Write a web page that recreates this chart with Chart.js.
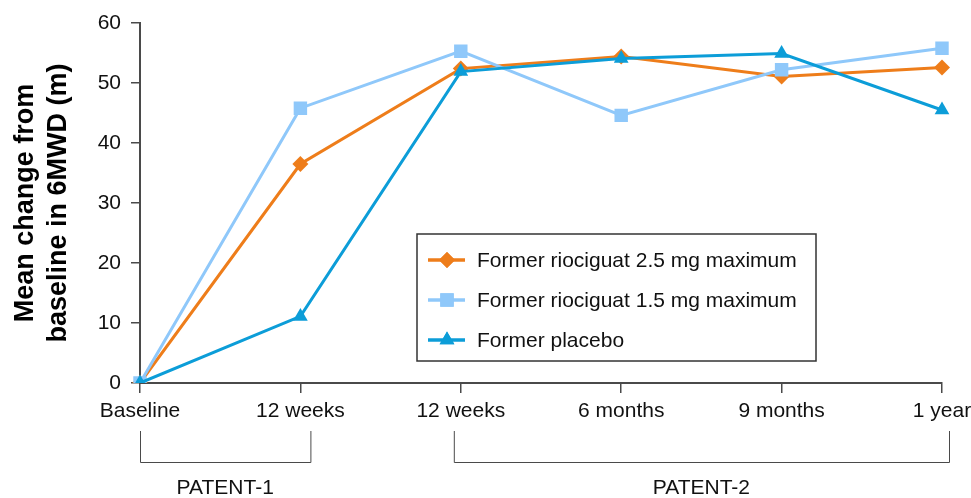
<!DOCTYPE html>
<html>
<head>
<meta charset="utf-8">
<script src="https://cdn.jsdelivr.net/npm/chart.js@4.4.1/dist/chart.umd.min.js"></script>
<style>
  html, body { margin: 0; padding: 0; background: #fff; }
  #wrap { width: 971px; height: 498px; position: relative; }
</style>
</head>
<body>
<div id="wrap"><canvas id="sixMwdChart"></canvas></div>
<script>
const timepoints = ['Baseline', '12 weeks', '12 weeks', '6 months', '9 months', '1 year'];
const riociguat25 = [0, 36.5, 52.4, 54.4, 51.1, 52.6];
const riociguat15 = [0, 45.8, 55.3, 44.6, 52.2, 55.8];
const placebo = [0, 11.1, 51.9, 54.1, 54.9, 45.5];
const yTicks = [0, 10, 20, 30, 40, 50, 60];
const studyGroups = [
  { label: 'PATENT-1', from: 0, to: 1 },
  { label: 'PATENT-2', from: 2, to: 5 }
];

const ORANGE = '#EE7D1A';
const LIGHT_BLUE = '#8FC8FA';
const BLUE = '#0C9DD8';
const AXIS = '#4a4a4a';
const FONT = 'Liberation Sans, Arial, sans-serif';

// legend box drawn inside the plot, line + marker like the original
const boxLegend = {
  id: 'boxLegend',
  afterDraw(chart) {
    const ctx = chart.ctx;
    const x0 = 417, y0 = 234, w = 399, h = 127;
    ctx.save();
    ctx.fillStyle = '#fff';
    ctx.fillRect(x0, y0, w, h);
    ctx.strokeStyle = '#333';
    ctx.lineWidth = 1.5;
    ctx.strokeRect(x0, y0, w, h);
    chart.data.datasets.forEach((ds, i) => {
      const cy = y0 + 26 + i * 40;
      ctx.strokeStyle = ds.borderColor;
      ctx.lineWidth = 3.5;
      ctx.beginPath();
      ctx.moveTo(x0 + 11, cy);
      ctx.lineTo(x0 + 48, cy);
      ctx.stroke();
      ctx.fillStyle = ds.borderColor;
      Chart.helpers.drawPoint(ctx, {
        pointStyle: ds.pointStyle,
        radius: ds.pointRadius,
        borderWidth: 0
      }, x0 + 30, cy);
      ctx.fill();
      ctx.fillStyle = '#111';
      ctx.font = '21px ' + FONT;
      ctx.textBaseline = 'middle';
      ctx.fillText(ds.label, x0 + 60, cy + 1);
    });
    ctx.restore();
  }
};

// brackets under the x axis for the two studies
const studyBrackets = {
  id: 'studyBrackets',
  afterDraw(chart) {
    const ctx = chart.ctx;
    const xs = chart.scales.x;
    ctx.save();
    ctx.strokeStyle = AXIS;
    ctx.lineWidth = 1;
    ctx.fillStyle = '#111';
    ctx.font = '21px ' + FONT;
    ctx.textAlign = 'center';
    ctx.textBaseline = 'middle';
    studyGroups.forEach(g => {
      const a = xs.getPixelForValue(g.from) + (g.from === 0 ? 0 : -7);
      const b = xs.getPixelForValue(g.to) + (g.to === 1 ? 10 : 7);
      ctx.beginPath();
      ctx.moveTo(a + 0.5, 431);
      ctx.lineTo(a + 0.5, 462.5);
      ctx.lineTo(b + 0.5, 462.5);
      ctx.lineTo(b + 0.5, 431);
      ctx.stroke();
      ctx.fillText(g.label, (a + b) / 2, 488);
    });
    ctx.restore();
  }
};

new Chart(document.getElementById('sixMwdChart'), {
  type: 'line',
  data: {
    labels: timepoints,
    datasets: [
      {
        label: 'Former riociguat 2.5 mg maximum',
        data: riociguat25,
        borderColor: ORANGE,
        backgroundColor: ORANGE,
        borderWidth: 3,
        pointStyle: 'rectRot',
        pointRadius: 8,
        pointBorderWidth: 0,
        order: 2
      },
      {
        label: 'Former riociguat 1.5 mg maximum',
        data: riociguat15,
        borderColor: LIGHT_BLUE,
        backgroundColor: LIGHT_BLUE,
        borderWidth: 3,
        pointStyle: 'rect',
        pointRadius: 9.5,
        pointBorderWidth: 0,
        order: 1
      },
      {
        label: 'Former placebo',
        data: placebo,
        borderColor: BLUE,
        backgroundColor: BLUE,
        borderWidth: 3,
        pointStyle: 'triangle',
        pointRadius: 8.5,
        pointBorderWidth: 0,
        order: 0
      }
    ]
  },
  options: {
    responsive: true,
    maintainAspectRatio: false,
    animation: false,
    layout: { padding: { top: 23, right: 29, left: 0, bottom: 0 } },
    scales: {
      x: {
        offset: false,
        grid: { display: true, drawOnChartArea: false, tickLength: 10, color: AXIS, lineWidth: 1.5 },
        border: { display: true, color: AXIS, width: 2 },
        ticks: { color: '#111', padding: 6, maxRotation: 0, autoSkip: false, font: { family: FONT, size: 21 } },
        afterFit(scale) {
          scale.height = 115;
          scale.paddingRight = 0;
          scale.paddingLeft = 0;
        }
      },
      y: {
        min: 0,
        max: 60,
        afterBuildTicks(scale) { scale.ticks = yTicks.map(v => ({ value: v })); },
        grid: { display: true, drawOnChartArea: false, tickLength: 9, color: AXIS, lineWidth: 1.5 },
        border: { display: true, color: AXIS, width: 2 },
        ticks: { color: '#111', padding: 10, font: { family: FONT, size: 21 } },
        title: {
          display: true,
          text: ['Mean change from', 'baseline in 6MWD (m)'],
          color: '#000',
          padding: { top: 9, bottom: 0 },
          font: { family: FONT, size: 27, weight: 'bold', lineHeight: 1.22 }
        },
        afterFit(scale) { scale.width = 140; }
      }
    },
    plugins: {
      legend: { display: false },
      tooltip: { enabled: false }
    }
  },
  plugins: [boxLegend, studyBrackets]
});
</script>
</body>
</html>
